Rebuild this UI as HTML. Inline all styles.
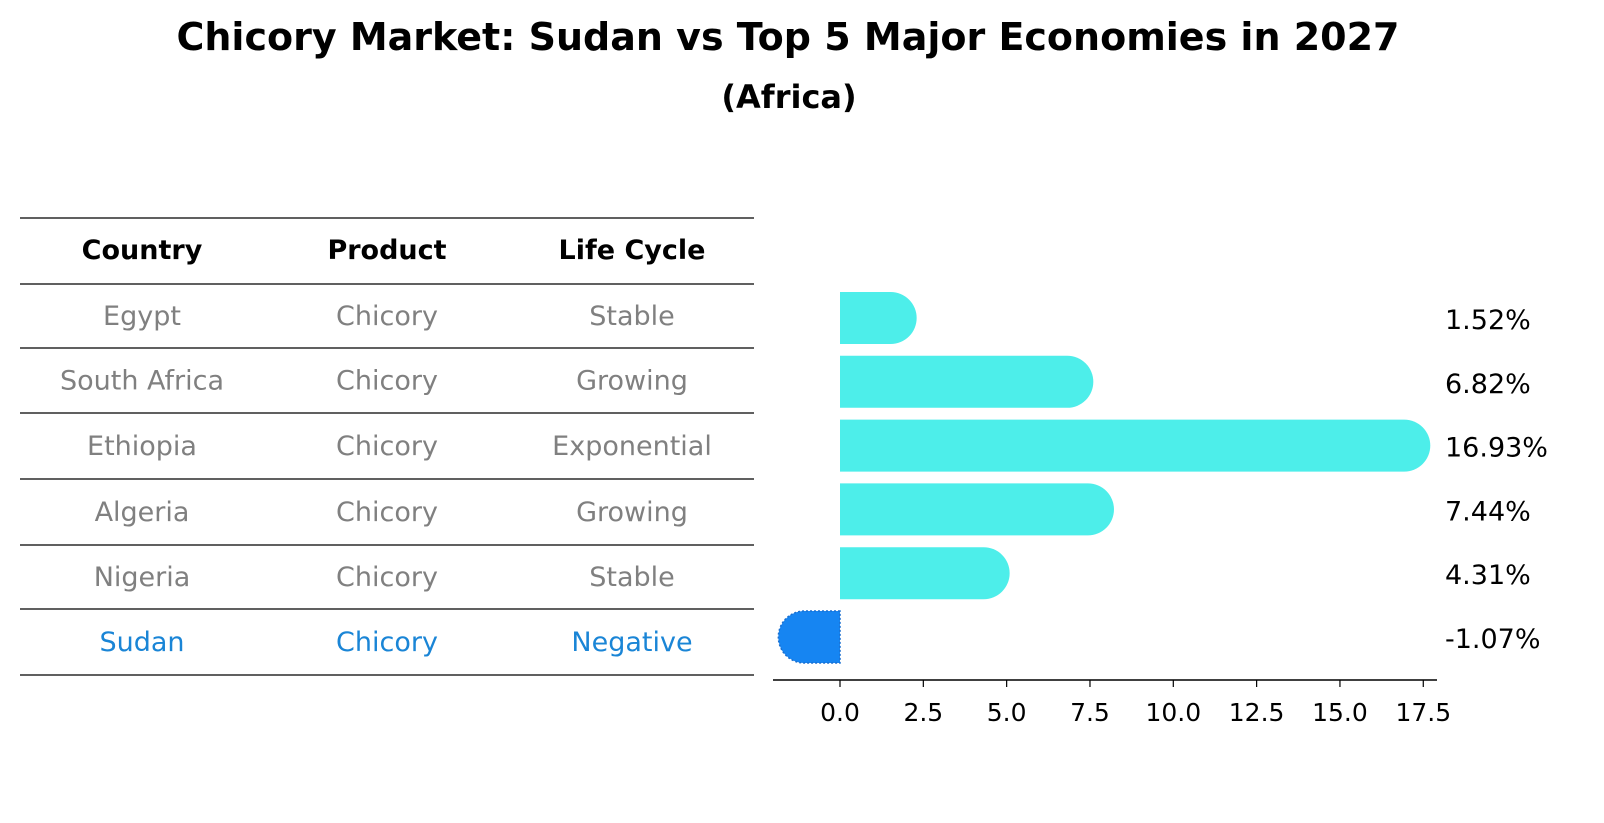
<!DOCTYPE html>
<html><head><meta charset="utf-8"><style>
html,body{margin:0;padding:0;background:#fff;overflow:hidden;width:1604px;height:823px}
svg{display:block}
svg text{font-family:"DejaVu Sans","Liberation Sans",sans-serif}
</style></head><body>
<svg width="1604" height="823" xmlns="http://www.w3.org/2000/svg">
<text x="788" y="50" text-anchor="middle" font-size="38" font-weight="bold">Chicory Market: Sudan vs Top 5 Major Economies in 2027</text>
<text x="789" y="108" text-anchor="middle" font-size="32" font-weight="bold">(Africa)</text>
<g id="table"></g>
<g id="bars"></g>
</svg>
<script>
const countries=["Egypt","South Africa","Ethiopia","Algeria","Nigeria","Sudan"];
const products=["Chicory","Chicory","Chicory","Chicory","Chicory","Chicory"];
const lifeCycles=["Stable","Growing","Exponential","Growing","Stable","Negative"];
const growth=[1.52,6.82,16.93,7.44,4.31,-1.07];
const ticks=[0,2.5,5,7.5,10,12.5,15,17.5];
const NS="http://www.w3.org/2000/svg";
function mk(t,a,p){const e=document.createElementNS(NS,t);for(const k in a)e.setAttribute(k,a[k]);p.appendChild(e);return e;}
const tbl=document.getElementById('table');
const lines=[218,284,348,413,479,545,609,675];
lines.forEach(y=>{const l=mk('line',{x1:20,x2:754,y1:y,y2:y,stroke:'#000','stroke-width':1.2},tbl);

});
const cx=[142,387,632];
["Country","Product","Life Cycle"].forEach((h,i)=>{const t=mk('text',{x:cx[i],y:259,'text-anchor':'middle','font-size':27,'font-weight':'bold'},tbl);t.textContent=h;

});
countries.forEach((c,r)=>{const y=(lines[r+1]+lines[r+2])/2+9;const col=c==="Sudan"?"#1a85d6":"#808080";
[c,products[r],lifeCycles[r]].forEach((v,i)=>{const t=mk('text',{x:cx[i],y:y,'text-anchor':'middle','font-size':27,fill:col},tbl);t.textContent=v;

});});
const bg=document.getElementById('bars');
const X=v=>840+v*33.33;
const rowY=r=>318+r*63.8;
const h=52,rr=26;
growth.forEach((v,r)=>{const y=rowY(r);const x0=X(0),x1=X(v);const neg=v<0;const col=neg?"#1685f2":"#4deeea";
let d;
if(!neg)d=`M${x0},${y-h/2}L${x1},${y-h/2}A${rr},${rr} 0 0 1 ${x1},${y+h/2}L${x0},${y+h/2}Z`;
else d=`M${x0},${y-h/2}L${x1},${y-h/2}A${rr},${rr} 0 0 0 ${x1},${y+h/2}L${x0},${y+h/2}Z`;
const p=mk('path',{d:d,fill:col},bg);
if(neg){p.setAttribute('stroke','#1a6fd0');p.setAttribute('stroke-dasharray','2,2');p.setAttribute('stroke-width','1.5');}


const t=mk('text',{x:1445,y:y+11,'font-size':27},bg);t.textContent=v.toFixed(2)+'%';

});
const ax=mk('line',{x1:773,x2:1437,y1:680,y2:680,stroke:'#000','stroke-width':1.5},bg);


ticks.forEach(v=>{const tl=mk('line',{x1:X(v),x2:X(v),y1:680,y2:687,stroke:'#000','stroke-width':1.2},bg);


const t=mk('text',{x:X(v),y:721,'text-anchor':'middle','font-size':25},bg);t.textContent=v.toFixed(1);

});
</script>
</body></html>
